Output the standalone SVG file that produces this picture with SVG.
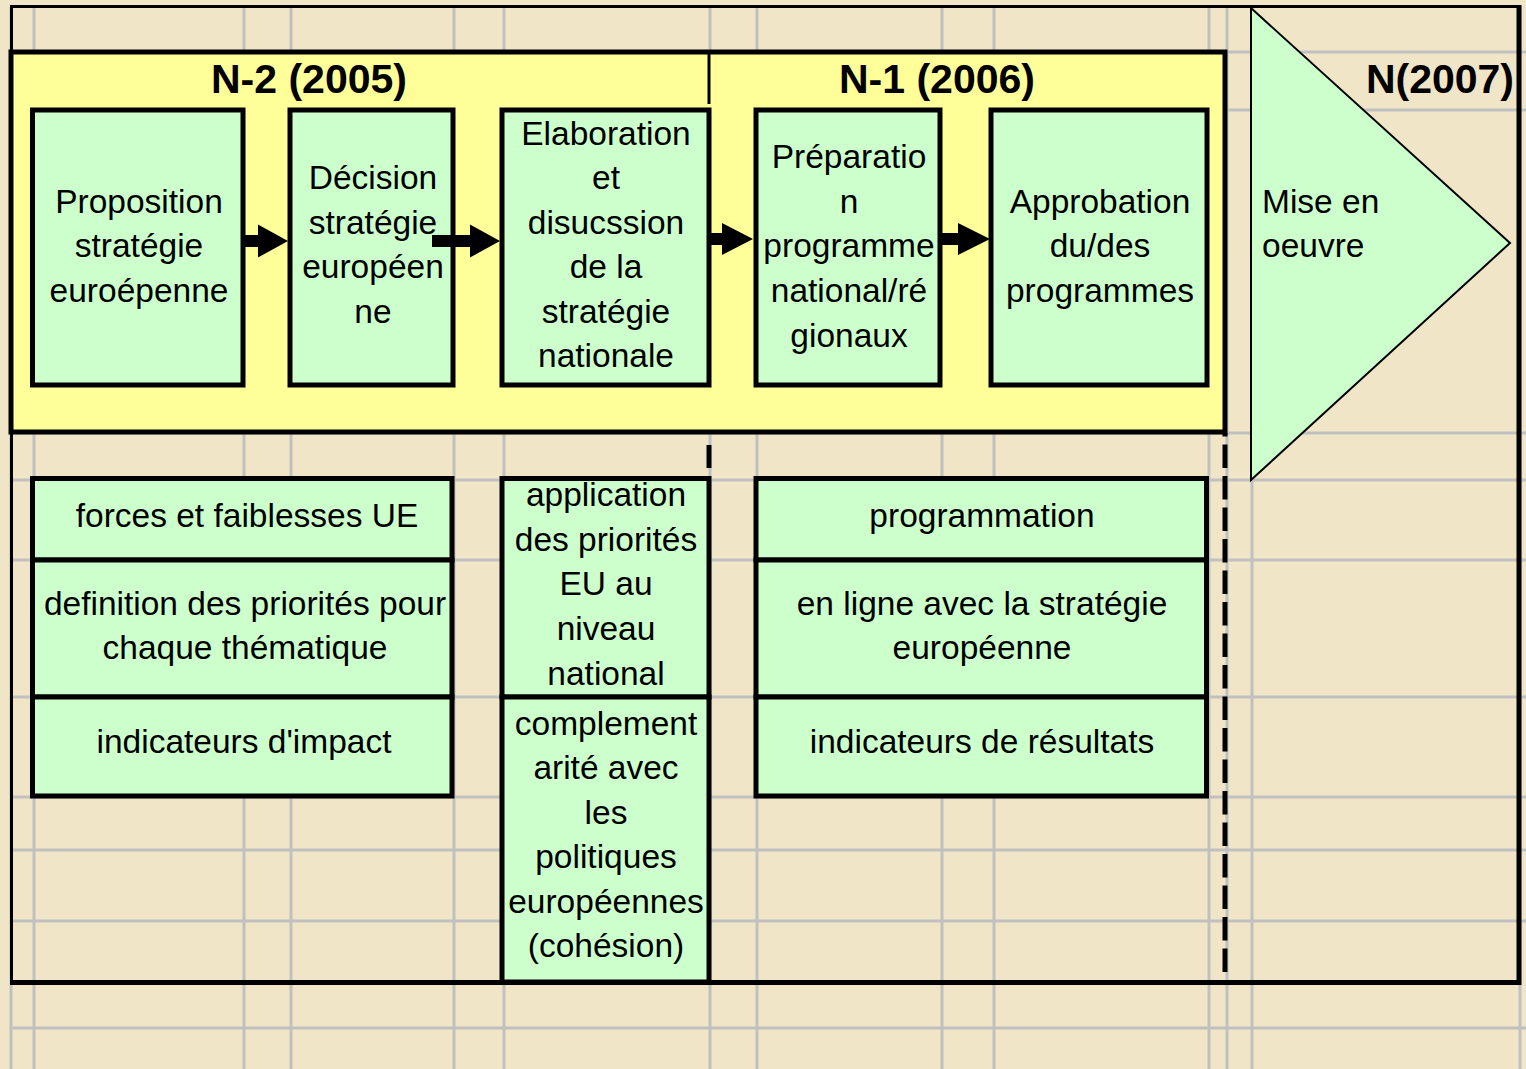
<svg xmlns="http://www.w3.org/2000/svg" width="1526" height="1069" viewBox="0 0 1526 1069">
<style>
.grid line{stroke:#C0C0C0;stroke-width:3}
.box{fill:#CCFFCC;stroke:#000;stroke-width:5}
.t{font-family:"Liberation Sans",Arial,sans-serif;font-size:33.5px;fill:#000;text-anchor:middle}
.ts{font-family:"Liberation Sans",Arial,sans-serif;font-size:33.5px;fill:#000;text-anchor:start}
.h{font-family:"Liberation Sans",Arial,sans-serif;font-size:41px;font-weight:bold;fill:#000;text-anchor:middle}
.arr{fill:#000;stroke:none}
.dash{stroke:#000;stroke-width:5;fill:none}
</style>
<rect x="0" y="0" width="1526" height="1069" fill="#F0E6C7"/>
<g class="grid">
<line x1="11" y1="7" x2="11" y2="1069"/>
<line x1="34" y1="7" x2="34" y2="1069"/>
<line x1="244" y1="7" x2="244" y2="1069"/>
<line x1="291" y1="7" x2="291" y2="1069"/>
<line x1="454" y1="7" x2="454" y2="1069"/>
<line x1="504" y1="7" x2="504" y2="1069"/>
<line x1="710" y1="7" x2="710" y2="1069"/>
<line x1="757" y1="7" x2="757" y2="1069"/>
<line x1="942" y1="7" x2="942" y2="1069"/>
<line x1="994" y1="7" x2="994" y2="1069"/>
<line x1="1209" y1="7" x2="1209" y2="1069"/>
<line x1="1227" y1="7" x2="1227" y2="1069"/>
<line x1="1252" y1="7" x2="1252" y2="1069"/>
<line x1="1520" y1="7" x2="1520" y2="1069"/>
<line x1="11" y1="52" x2="1526" y2="52"/>
<line x1="11" y1="110" x2="1526" y2="110"/>
<line x1="11" y1="433" x2="1526" y2="433"/>
<line x1="11" y1="480" x2="1526" y2="480"/>
<line x1="11" y1="560" x2="1526" y2="560"/>
<line x1="11" y1="697" x2="1526" y2="697"/>
<line x1="11" y1="797" x2="1526" y2="797"/>
<line x1="11" y1="850" x2="1526" y2="850"/>
<line x1="11" y1="921" x2="1526" y2="921"/>
<line x1="11" y1="1028" x2="1526" y2="1028"/>
</g>
<g id="frame">
<line x1="10" y1="6.5" x2="1521" y2="6.5" stroke="#000" stroke-width="3"/>
<line x1="11.5" y1="5" x2="11.5" y2="985" stroke="#000" stroke-width="3"/>
<line x1="1519" y1="5" x2="1519" y2="985" stroke="#000" stroke-width="5"/>
<line x1="10" y1="982.5" x2="1521" y2="982.5" stroke="#000" stroke-width="5"/>
</g>
<g id="period-n2-n1">
<rect x="11" y="52" width="1214" height="380" fill="#FFFF99" stroke="#000" stroke-width="5"/>
<line x1="709" y1="52" x2="709" y2="104" stroke="#000" stroke-width="3"/>
<text class="h" x="309" y="93">N-2 (2005)</text>
<text class="h" x="937" y="93">N-1 (2006)</text>
</g>
<g id="period-n">
<polygon points="1251,8 1510,243 1251,480" fill="#CCFFCC" stroke="#000" stroke-width="2"/>
<text class="h" x="1514" y="93" style="text-anchor:end">N(2007)</text>
<text class="ts" x="1262" y="213">Mise en</text>
<text class="ts" x="1262" y="257">oeuvre</text>
</g>
<g id="separators">
<line class="dash" x1="709" y1="445" x2="709" y2="468"/>
<line class="dash" x1="1225" y1="433" x2="1225" y2="973" stroke-dasharray="23.5 8" stroke-dashoffset="20"/>
</g>
<g id="proposition">
<rect class="box" x="32.5" y="110" width="210.5" height="275"/>
<text class="t" x="139" y="213">Proposition</text>
<text class="t" x="139" y="257">stratégie</text>
<text class="t" x="139" y="302">euroépenne</text>
</g>
<g id="decision">
<rect class="box" x="290" y="110" width="163" height="275"/>
<text class="t" x="373" y="189">Décision</text>
<text class="t" x="373" y="234">stratégie</text>
<text class="t" x="373" y="278">européen</text>
<text class="t" x="373" y="323">ne</text>
</g>
<g id="elaboration">
<rect class="box" x="502" y="110" width="207" height="275"/>
<text class="t" x="606" y="145">Elaboration</text>
<text class="t" x="606" y="189">et</text>
<text class="t" x="606" y="234">disucssion</text>
<text class="t" x="606" y="278">de la</text>
<text class="t" x="606" y="323">stratégie</text>
<text class="t" x="606" y="367">nationale</text>
</g>
<g id="preparation">
<rect class="box" x="756" y="110" width="184" height="275"/>
<text class="t" x="849" y="168">Préparatio</text>
<text class="t" x="849" y="213">n</text>
<text class="t" x="849" y="257">programme</text>
<text class="t" x="849" y="302">national/ré</text>
<text class="t" x="849" y="347">gionaux</text>
</g>
<g id="approbation">
<rect class="box" x="991" y="110" width="216" height="275"/>
<text class="t" x="1100" y="213">Approbation</text>
<text class="t" x="1100" y="257">du/des</text>
<text class="t" x="1100" y="302">programmes</text>
</g>
<g id="forces">
<rect class="box" x="32.5" y="478.5" width="419.5" height="81.5"/>
<text class="t" x="247" y="527">forces et faiblesses UE</text>
</g>
<g id="definition">
<rect class="box" x="32.5" y="560" width="419.5" height="137"/>
<text class="t" x="245" y="615">definition des priorités pour</text>
<text class="t" x="245" y="659">chaque thématique</text>
</g>
<g id="impact">
<rect class="box" x="32.5" y="697" width="419.5" height="99"/>
<text class="t" x="244" y="753">indicateurs d'impact</text>
</g>
<g id="application">
<rect class="box" x="502" y="478.5" width="207" height="218.5"/>
<text class="t" x="606" y="506">application</text>
<text class="t" x="606" y="551">des priorités</text>
<text class="t" x="606" y="595">EU au</text>
<text class="t" x="606" y="640">niveau</text>
<text class="t" x="606" y="685">national</text>
</g>
<g id="complementarite">
<rect class="box" x="502" y="697" width="207" height="285"/>
<text class="t" x="606" y="735">complement</text>
<text class="t" x="606" y="779">arité avec</text>
<text class="t" x="606" y="824">les</text>
<text class="t" x="606" y="868">politiques</text>
<text class="t" x="606" y="913">européennes</text>
<text class="t" x="606" y="957">(cohésion)</text>
</g>
<g id="programmation">
<rect class="box" x="756" y="478.5" width="450.5" height="81.5"/>
<text class="t" x="982" y="527">programmation</text>
</g>
<g id="en-ligne">
<rect class="box" x="756" y="560" width="450.5" height="137"/>
<text class="t" x="982" y="615">en ligne avec la stratégie</text>
<text class="t" x="982" y="659">européenne</text>
</g>
<g id="resultats">
<rect class="box" x="756" y="697" width="450.5" height="99"/>
<text class="t" x="982" y="753">indicateurs de résultats</text>
</g>
<g id="connectors">
<polygon class="arr" points="243,235 258,235 258,224.5 288,241 258,257.5 258,247 243,247"/>
<polygon class="arr" points="432,235 470,235 470,224.5 500,241 470,257.5 470,247 432,247"/>
<polygon class="arr" points="710,233 722,233 722,223 753,239 722,255 722,245 710,245"/>
<polygon class="arr" points="942,233 958,233 958,223 990,239 958,255 958,245 942,245"/>
</g>
</svg>
